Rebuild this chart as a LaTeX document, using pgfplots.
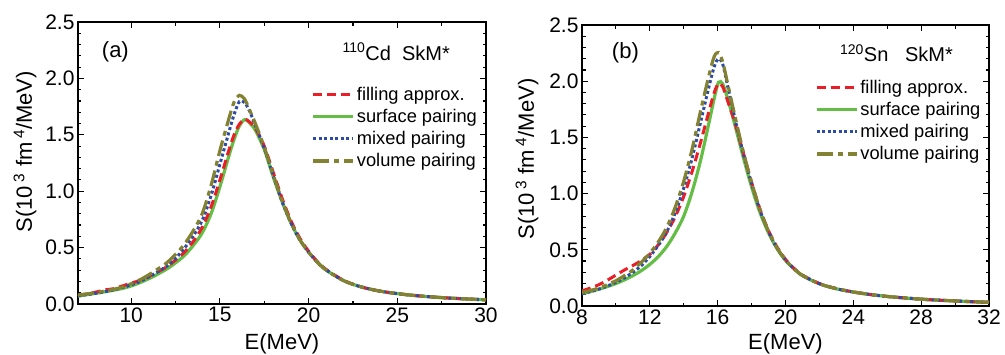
\documentclass[border=0pt]{standalone}
\usepackage{fontspec}
\setmainfont{Liberation Sans}
\usepackage{pgfplots}
\usepackage{pgfplotstable}
\pgfplotsset{compat=1.18}

\definecolor{cred}{RGB}{235,30,40}
\definecolor{cgreen}{RGB}{100,190,70}
\definecolor{cblue}{RGB}{45,75,165}
\definecolor{colive}{RGB}{130,130,50}

\pgfplotstableread{
E      fill   surf   mix    vol
7      0.075  0.070  0.072  0.080
8      0.105  0.095  0.095  0.100
8.5    0.125  0.108  0.108  0.115
9      0.135  0.122  0.125  0.130
9.5    0.160  0.138  0.145  0.150
10     0.185  0.160  0.170  0.180
10.5   0.210  0.190  0.200  0.215
11     0.245  0.225  0.240  0.260
11.5   0.285  0.265  0.285  0.310
12     0.330  0.310  0.335  0.365
12.5   0.390  0.365  0.405  0.440
13     0.460  0.430  0.495  0.530
13.5   0.555  0.520  0.605  0.650
14     0.680  0.630  0.740  0.800
14.5   0.860  0.800  0.960  1.050
15     1.100  1.040  1.240  1.360
15.5   1.360  1.310  1.520  1.640
15.8   1.500  1.460  1.680  1.790
16.1   1.595  1.580  1.795  1.850
16.4   1.640  1.635  1.785  1.815
16.7   1.610  1.600  1.700  1.710
17     1.560  1.540  1.580  1.600
17.5   1.400  1.370  1.380  1.390
18     1.170  1.130  1.140  1.150
18.5   0.940  0.910  0.910  0.920
19     0.740  0.720  0.720  0.725
19.5   0.585  0.570  0.570  0.572
20     0.468  0.460  0.460  0.460
20.5   0.375  0.370  0.370  0.370
21     0.305  0.300  0.300  0.300
22     0.208  0.205  0.205  0.205
23     0.150  0.150  0.150  0.150
24     0.115  0.115  0.115  0.115
25     0.092  0.092  0.092  0.092
26     0.075  0.075  0.075  0.075
27     0.062  0.062  0.062  0.062
28     0.052  0.052  0.052  0.052
29     0.044  0.044  0.044  0.044
30     0.037  0.037  0.037  0.037
}\tableA

\pgfplotstableread{
E     fill   surf   mix    vol
8     0.135  0.110  0.110  0.120
8.5   0.160  0.128  0.128  0.138
9     0.190  0.150  0.150  0.160
9.5   0.230  0.173  0.178  0.190
10    0.275  0.200  0.210  0.225
10.5  0.320  0.232  0.250  0.270
11    0.360  0.270  0.300  0.320
11.5  0.405  0.315  0.360  0.390
12    0.460  0.370  0.440  0.470
12.5  0.545  0.440  0.540  0.570
13    0.655  0.530  0.660  0.700
13.5  0.795  0.650  0.830  0.880
14    0.975  0.800  1.050  1.110
14.5  1.200  1.020  1.320  1.400
15    1.460  1.300  1.640  1.740
15.5  1.740  1.640  1.960  2.060
15.8  1.900  1.850  2.130  2.220
16.05 1.980  1.990  2.200  2.255
16.3  1.950  1.975  2.150  2.170
16.6  1.820  1.840  1.950  1.970
17    1.640  1.620  1.680  1.700
17.5  1.370  1.330  1.360  1.380
18    1.100  1.060  1.090  1.100
18.5  0.860  0.830  0.850  0.855
19    0.670  0.650  0.660  0.665
19.5  0.525  0.510  0.515  0.518
20    0.415  0.405  0.410  0.410
20.5  0.335  0.330  0.332  0.332
21    0.275  0.270  0.272  0.272
22    0.200  0.197  0.198  0.198
23    0.155  0.153  0.154  0.154
24    0.125  0.124  0.125  0.125
25    0.102  0.102  0.102  0.102
26    0.085  0.085  0.085  0.085
27    0.072  0.072  0.072  0.072
28    0.061  0.061  0.061  0.061
29    0.052  0.052  0.052  0.052
30    0.045  0.045  0.045  0.045
31    0.038  0.038  0.038  0.038
32    0.033  0.033  0.033  0.033
}\tableB

\pgfplotsset{
  fillst/.style={cred, line width=3pt, dash pattern=on 9pt off 5pt, smooth, no marks},
  surfst/.style={cgreen, line width=3.2pt, solid, smooth, no marks},
  mixst/.style={cblue, line width=3pt, dash pattern=on 3pt off 2.5pt, smooth, no marks},
  volst/.style={colive, line width=3.2pt, dash pattern=on 16pt off 5pt on 5pt off 5pt, smooth, no marks},
  myaxis/.style={
    scale only axis,
    axis line style={line width=1.3pt},
    every tick/.style={black, line width=1.1pt},
    major tick length=6pt, minor tick length=3.5pt,
    tick align=inside,
    ymin=0, ymax=2.5,
    ytick={0,0.5,...,2.5},
    minor y tick num=4,
    minor x tick num=1,
    /pgf/number format/assume math mode=true,
    tick label style={font=\fontsize{21}{21}\selectfont},
    yticklabel style={/pgf/number format/.cd, fixed, fixed zerofill, precision=1},
    xticklabel style={/pgf/number format/.cd, fixed, precision=0},
    xlabel={E(MeV)},
    ylabel={S(10\,\textsuperscript{3} fm\,\textsuperscript{4}/MeV)},
    legend cell align=left,
    legend image code/.code={\draw[##1] (0pt,0pt) -- (40pt,0pt);},
    legend style={draw=none, fill=none, anchor=north west,
      font=\fontsize{18.3}{18.3}\selectfont, row sep=3.5pt,
      /tikz/every even column/.append style={column sep=2pt}},
  }
}

\begin{document}
\begin{tikzpicture}
\useasboundingbox (-78pt,-50pt) rectangle (927pt,304pt);
\begin{axis}[myaxis,
  at={(0pt,0pt)}, anchor=south west,
  width=408pt, height=282pt,
  xmin=7, xmax=30, xtick={10,15,20,25,30},
  every axis x label/.style={at={(axis description cs:0.5,-0.16)}, anchor=base, font=\fontsize{22}{22}\selectfont},
  every axis y label/.style={at={(axis description cs:-0.13,0.54)}, rotate=90, anchor=center, font=\fontsize{22}{22}\selectfont},
  legend style={at={(rel axis cs:0.565,0.785)}},
]
\addplot[surfst, forget plot] table[x=E, y=surf] {\tableA};
\addplot[fillst] table[x=E, y=fill] {\tableA};
\addlegendentry{filling approx.}
\addlegendimage{surfst}
\addlegendentry{surface pairing}
\addplot[mixst] table[x=E, y=mix] {\tableA};
\addlegendentry{mixed pairing}
\addplot[volst] table[x=E, y=vol] {\tableA};
\addlegendentry{volume pairing}
\node[font=\fontsize{22}{22}\selectfont, anchor=west] at (rel axis cs:0.05,0.895) {(a)};
\node[font=\fontsize{20}{20}\selectfont, anchor=east] at (rel axis cs:0.92,0.895) {\textsuperscript{110}Cd\ \ SkM*};
\end{axis}

\begin{axis}[myaxis,
  at={(504pt,-2pt)}, anchor=south west,
  width=407pt, height=281pt,
  xmin=8, xmax=32, xtick={8,12,...,32},
  every axis x label/.style={at={(axis description cs:0.5,-0.155)}, anchor=base, font=\fontsize{22}{22}\selectfont},
  every axis y label/.style={at={(axis description cs:-0.135,0.523)}, rotate=90, anchor=center, font=\fontsize{22}{22}\selectfont},
  legend style={at={(rel axis cs:0.565,0.82)}},
]
\addplot[surfst, forget plot] table[x=E, y=surf] {\tableB};
\addplot[fillst] table[x=E, y=fill] {\tableB};
\addlegendentry{filling approx.}
\addlegendimage{surfst}
\addlegendentry{surface pairing}
\addplot[mixst] table[x=E, y=mix] {\tableB};
\addlegendentry{mixed pairing}
\addplot[volst] table[x=E, y=vol] {\tableB};
\addlegendentry{volume pairing}
\node[font=\fontsize{22}{22}\selectfont, anchor=west] at (rel axis cs:0.065,0.9) {(b)};
\node[font=\fontsize{20}{20}\selectfont, anchor=east] at (rel axis cs:0.92,0.9) {\textsuperscript{120}Sn\ \ \ SkM*};
\end{axis}
\end{tikzpicture}
\end{document}
